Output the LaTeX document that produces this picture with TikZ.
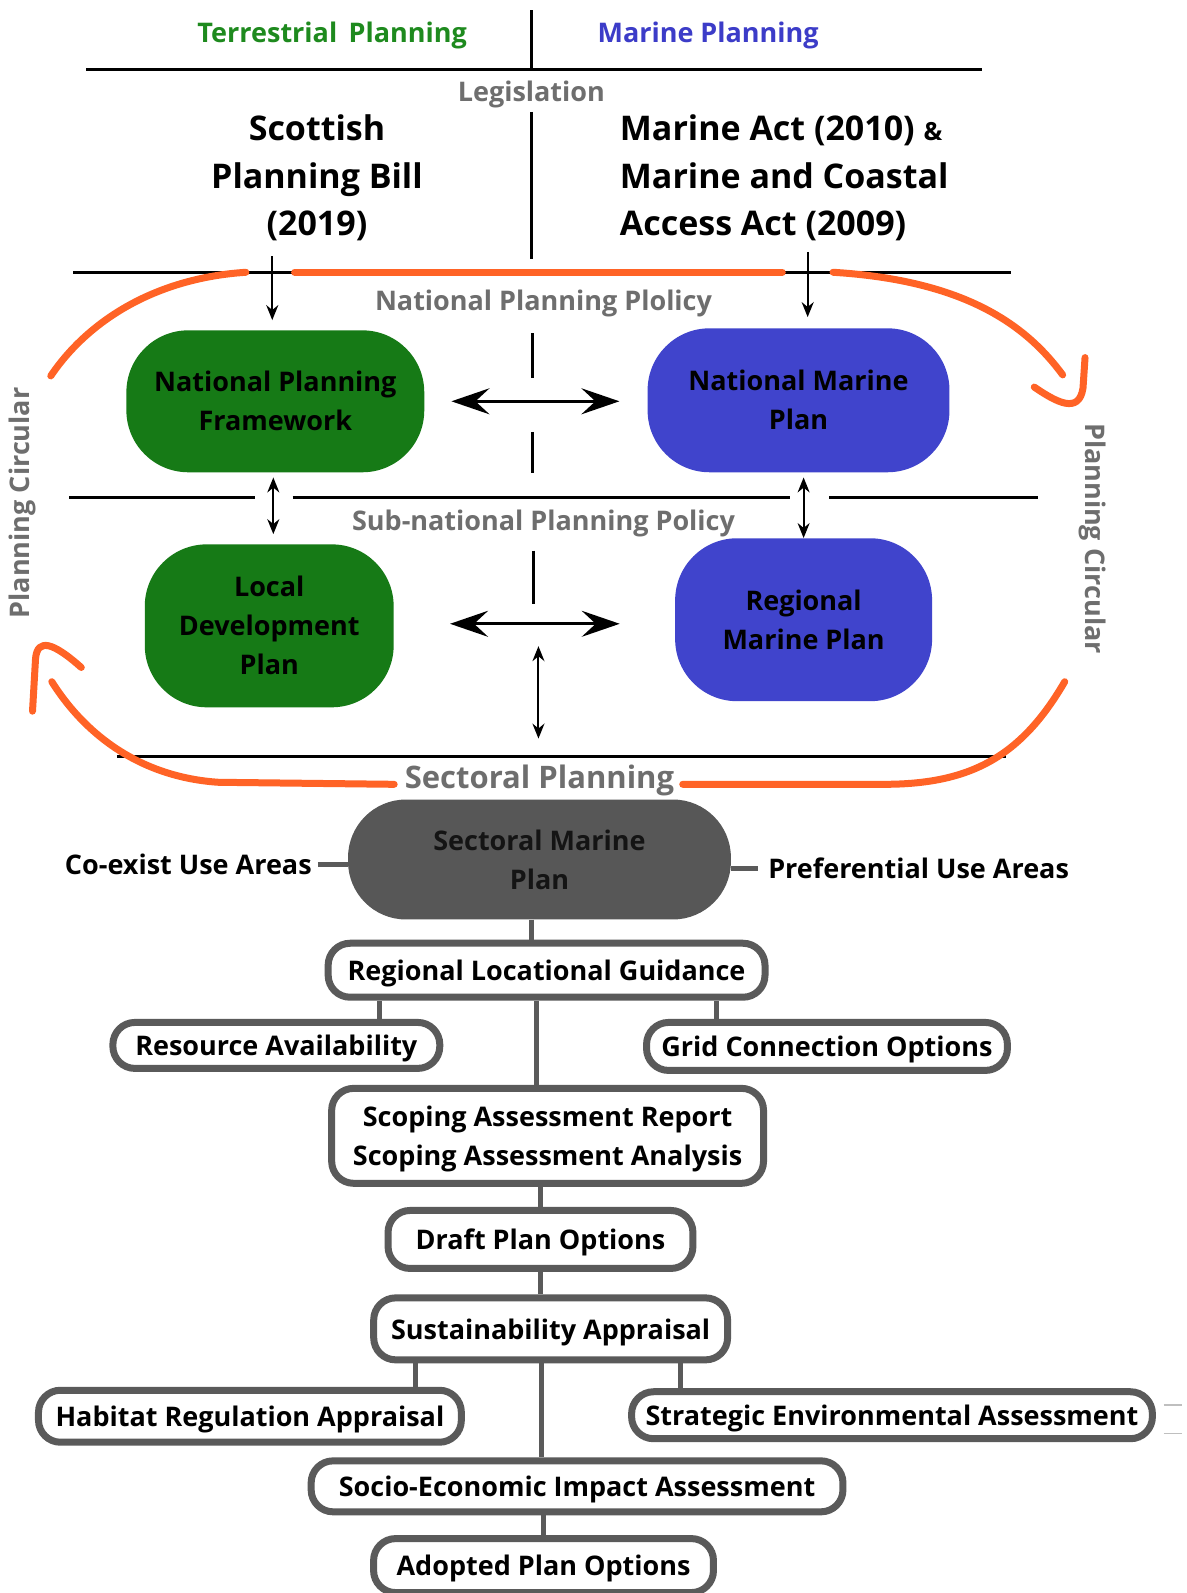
\documentclass[tikz,border=0pt]{standalone}
\usepackage{fontspec}
\setmainfont{Open Sans}
\usetikzlibrary{arrows.meta,calc}

\definecolor{tgreen}{HTML}{1E8A1E}
\definecolor{mblue}{HTML}{3C3CC8}
\definecolor{boxgreen}{HTML}{167A16}
\definecolor{boxblue}{HTML}{4044CC}
\definecolor{ovalgray}{HTML}{575757}
\definecolor{rimgray}{HTML}{5A5A5A}
\definecolor{labelgray}{HTML}{6E6E6E}
\definecolor{cycle}{HTML}{FF6326}

\newcommand{\fs}[1]{\fontsize{#1}{1.2\dimexpr#1pt\relax}\selectfont\bfseries}

\tikzset{
  heading/.style={font=\fs{27}, inner sep=0, yshift=-3pt},
  sectionlabel/.style={font=\fs{27}, text=labelgray, inner sep=0},
  flatlabel/.style={sectionlabel, yshift=-3pt},
  actlabel/.style={font=\fontsize{34}{48}\selectfont\bfseries, inner sep=0},
  planblob/.style={rounded corners=62pt, inner sep=4pt, align=center,
    font=\fontsize{27}{39}\selectfont\bfseries, text=black},
  stepbox/.style={draw=rimgray, line width=7pt, fill=white, rounded corners=22pt,
    align=center, inner sep=0, text depth=0pt, font=\fontsize{27}{39}\selectfont\bfseries},
  rule/.style={line width=3pt, black},
  divider/.style={line width=2.5pt, black},
  link/.style={line width=2pt, -{Stealth[length=15pt,width=12pt]}},
  duallink/.style={line width=2pt, {Stealth[length=15pt,width=12pt]}-{Stealth[length=15pt,width=12pt]}},
  bigdual/.style={line width=3pt, {Stealth[length=38pt,width=26pt,inset=14pt]}-{Stealth[length=38pt,width=26pt,inset=14pt]}},
  cyclepath/.style={draw=cycle, line width=7pt, line cap=round, line join=round},
  tree/.style={draw=rimgray, line width=5pt},
}

\begin{document}
\begin{tikzpicture}[x=1.0163pt, y=-1.0163pt]
\useasboundingbox[fill=white] (0,0) rectangle (1168,1568);

% column headings
\node[heading, text=tgreen] (terr) at (327,32) {Terrestrial\, Planning};
\node[heading, text=mblue] (mar) at (697,32) {Marine Planning};
\draw[divider] (523,10) -- (523,67);
\draw[rule] (85,68) -- (967,68);

% legislation
\node[flatlabel] (legis) at (523,90) {Legislation};
\draw[divider] (523,110) -- (523,255);
\node[actlabel, align=center] (spb) at (312,175) {Scottish\\Planning Bill\\(2019)};
\node[actlabel, align=left, anchor=west] (macts) at (610,175)
  {Marine Act (2010) {\fontsize{25}{25}\selectfont\&}\\Marine and Coastal\\Access Act (2009)};

% national tier
\draw[rule] (72,268) -- (995,268);
\node[flatlabel] (natpol) at (535,296) {National Planning Plolicy};
\draw[divider] (524,328) -- (524,372);
\draw[divider] (524,425) -- (524,466);
\node[planblob, fill=boxgreen, minimum width=298pt, minimum height=142pt] (npf) at (271,395)
  {National Planning\\Framework};
\node[planblob, fill=boxblue, minimum width=302pt, minimum height=144pt] (nmp) at (786,394)
  {National Marine\\Plan};
\coordinate (legL) at (268,252);
\coordinate (legR) at (795,248);
\draw[link, shorten >=10pt] (legL) -- (legL |- npf.north);
\draw[link, shorten >=11pt] (legR) -- (legR |- nmp.north);
\coordinate (natA) at ([xshift=27pt]npf.east);
\coordinate (natB) at ([xshift=-28pt]nmp.west);
\draw[bigdual] (natA) -- (natB |- natA);

% sub-national tier
\draw[rule] (68,490) -- (251,490);
\draw[rule] (288,490) -- (778,490);
\draw[rule] (816,490) -- (1022,490);
\node[flatlabel] (subpol) at (535,512) {Sub-national Planning Policy};
\draw[divider] (525,542) -- (525,595);
\node[planblob, fill=boxgreen, minimum width=249pt, minimum height=163pt] (ldp) at (265,616)
  {Local\\Development\\Plan};
\node[planblob, fill=boxblue, minimum width=257pt, minimum height=163pt] (rmp) at (791,610)
  {Regional\\Marine Plan};
\coordinate (ldpTop) at ([xshift=-2pt]npf.south);
\draw[duallink, shorten <=5pt, shorten >=10pt] (ldpTop) -- (ldpTop |- ldp.north);
\draw[duallink, shorten <=5pt] (rmp.north |- nmp.south) -- (rmp.north);
\coordinate (subA) at (443,614);
\coordinate (subB) at (610,614);
\draw[bigdual] (subA) -- (subB);
\coordinate (vtop) at (530,636);
\coordinate (vbot) at (530,727);
\draw[duallink] (vtop) -- (vbot);

% sectoral tier
\draw[rule] (115,745) -- (990,745);
\node[font=\fs{31}, text=labelgray, inner sep=0, yshift=-3pt] (secpl) at (531,765) {Sectoral Planning};

% planning circular loop
\draw[cyclepath] (242,268) .. controls (150,274) and (85,318) .. (50,370);
\draw[cyclepath] (290,268) -- (770,268);
\draw[cyclepath] (820,268) .. controls (950,276) and (1010,320) .. (1046,369);
\draw[cyclepath] (1018,381) .. controls (1040,396) and (1062,408) .. (1066,382) -- (1068,352);
\draw[cyclepath] (1048,671) .. controls (1005,745) and (955,772) .. (870,772) -- (672,772);
\draw[cyclepath] (388,772) -- (215,770) .. controls (140,765) and (85,725) .. (51,671);
\draw[cyclepath] (32,700) -- (35,648) .. controls (37,628) and (52,632) .. (80,657);
\node[sectionlabel, rotate=90] (circL) at (22,495) {Planning Circular};
\node[sectionlabel, rotate=-90] (circR) at (1075,530) {Planning Circular};

% sectoral marine plan
\node[planblob, fill=ovalgray, minimum width=383pt, minimum height=120pt, rounded corners=58pt,
  text=black!92] (smp) at (531,846) {Sectoral Marine\\Plan};
\node[font=\fs{27}, inner sep=0, anchor=east, yshift=-2pt] (coex) at (307,849) {Co-exist Use Areas};
\node[font=\fs{27}, inner sep=0, anchor=west, yshift=-2pt] (pref) at (756,853) {Preferential Use Areas};
\draw[tree] ([xshift=6pt]coex.east) -- (smp.west |- coex.east);
\draw[tree] (smp.east |- pref.west) -- ([xshift=-10pt]pref.west);

% process steps
\node[stepbox, minimum width=437pt, minimum height=54pt] (rlg) at (538,955) {Regional Locational Guidance};
\node[stepbox, minimum width=327pt, minimum height=46pt] (ra) at (272,1029) {Resource Availability};
\node[stepbox, minimum width=361pt, minimum height=48pt] (gco) at (814,1030) {Grid Connection Options};
\node[stepbox, minimum width=432pt, minimum height=95pt] (sar) at (539,1118)
  {Scoping Assessment Report\\Scoping Assessment Analysis};
\node[stepbox, minimum width=305pt, minimum height=58pt] (dpo) at (532,1220) {Draft Plan Options};
\node[stepbox, minimum width=354pt, minimum height=62pt] (sa) at (542,1308) {Sustainability Appraisal};
\node[stepbox, minimum width=423pt, minimum height=52pt] (hra) at (246,1394) {Habitat Regulation Appraisal};
\node[stepbox, minimum width=521pt, minimum height=47pt] (sea) at (878,1393) {Strategic Environmental Assessment};
\node[stepbox, minimum width=532pt, minimum height=51pt] (seia) at (568,1463) {Socio-Economic Impact Assessment};
\node[stepbox, minimum width=340pt, minimum height=54pt] (apo) at (535,1541) {Adopted Plan Options};

% tree connectors
\draw[tree] ([xshift=-8pt]smp.south) -- ([xshift=-8pt]smp.south |- rlg.north);
\draw[tree] ([xshift=103pt]ra.north) -- ([xshift=103pt]ra.north |- rlg.south);
\draw[tree] ([xshift=-111pt]gco.north) -- ([xshift=-111pt]gco.north |- rlg.south);
\draw[tree] ([xshift=-10pt]rlg.south) -- ([xshift=-10pt]rlg.south |- sar.north);
\draw[tree] (dpo.north |- sar.south) -- (dpo.north);
\draw[tree] (dpo.south) -- (dpo.south |- sa.north);
\draw[tree] ([xshift=166pt]hra.north) -- ([xshift=166pt]hra.north |- sa.south);
\draw[tree] ([xshift=-212pt]sea.north) -- ([xshift=-212pt]sea.north |- sa.south);
\draw[tree] ([xshift=-9pt]sa.south) -- ([xshift=-9pt]sa.south |- seia.north);
\draw[tree] (apo.north |- seia.south) -- (apo.north);

% faint marks beside the assessment box
\draw[black!25, line width=1.5pt] ([xshift=8pt]sea.east |- 0,1383) -- ++(18,0);
\draw[black!25, line width=1.5pt] ([xshift=8pt]sea.east |- 0,1411) -- ++(18,0);
\end{tikzpicture}
\end{document}
